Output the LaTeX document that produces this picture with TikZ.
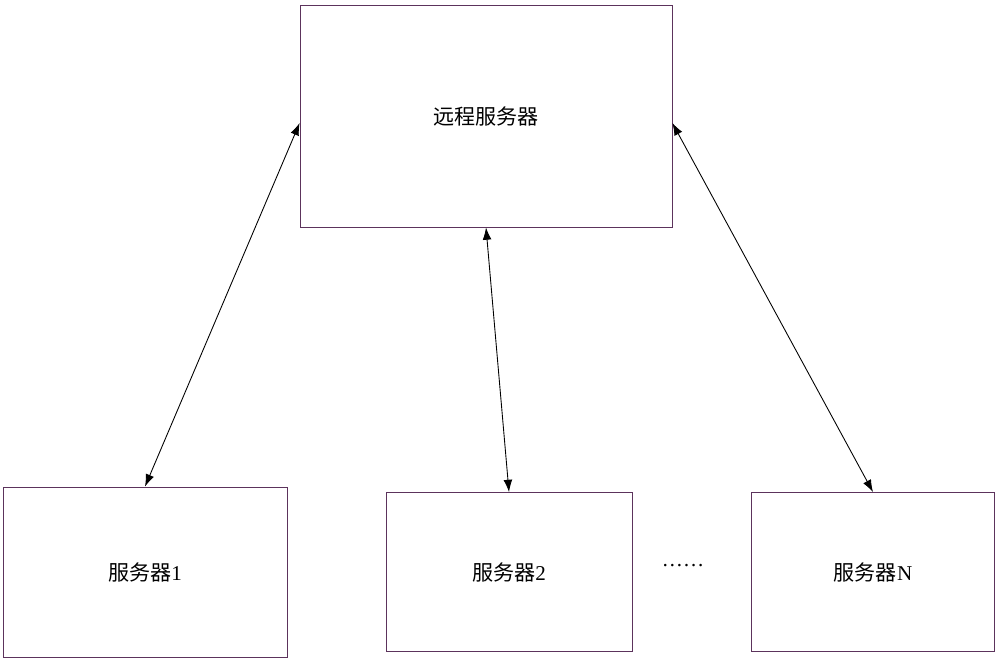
\documentclass[tikz,border=0pt]{standalone}
\usepackage{fontspec}
\setmainfont{Liberation Serif}
\newfontfamily\cjk{Noto Sans CJK SC}
\usetikzlibrary{arrows.meta}
\tikzstyle{box} = [rectangle, draw=black!60!violet!80, line width=0.5pt, font=\large]
\tikzstyle{line} = [draw, line width=0.5pt, {Latex[length=7pt,width=5pt]}-{Latex[length=7pt,width=5pt]}]

\begin{document}
\begin{tikzpicture}[x=0.02cm, y=-0.02cm]
    \useasboundingbox (0,0) rectangle (1000,660);
    \node [box, minimum width=7.44cm, minimum height=4.44cm] (remote) at (486,116) {\cjk 远程服务器};
    \node [box, minimum width=5.68cm, minimum height=3.4cm] (srv1) at (145,572) {\cjk 服务器\rmfamily 1};
    \node [box, minimum width=4.92cm, minimum height=3.18cm] (srv2) at (509,572) {\cjk 服务器\rmfamily 2};
    \node [box, minimum width=4.86cm, minimum height=3.18cm] (srvn) at (873,572) {\cjk 服务器\rmfamily N};
    \node [font=\large] (dots) at (683,566) {……};
    \path [line] (remote.west |- 0,123) -- (srv1.north);
    \path [line] (remote.south -| 486,0) -- (srv2.north);
    \path [line] (remote.east |- 0,123) -- (srvn.north);
\end{tikzpicture}
\end{document}
